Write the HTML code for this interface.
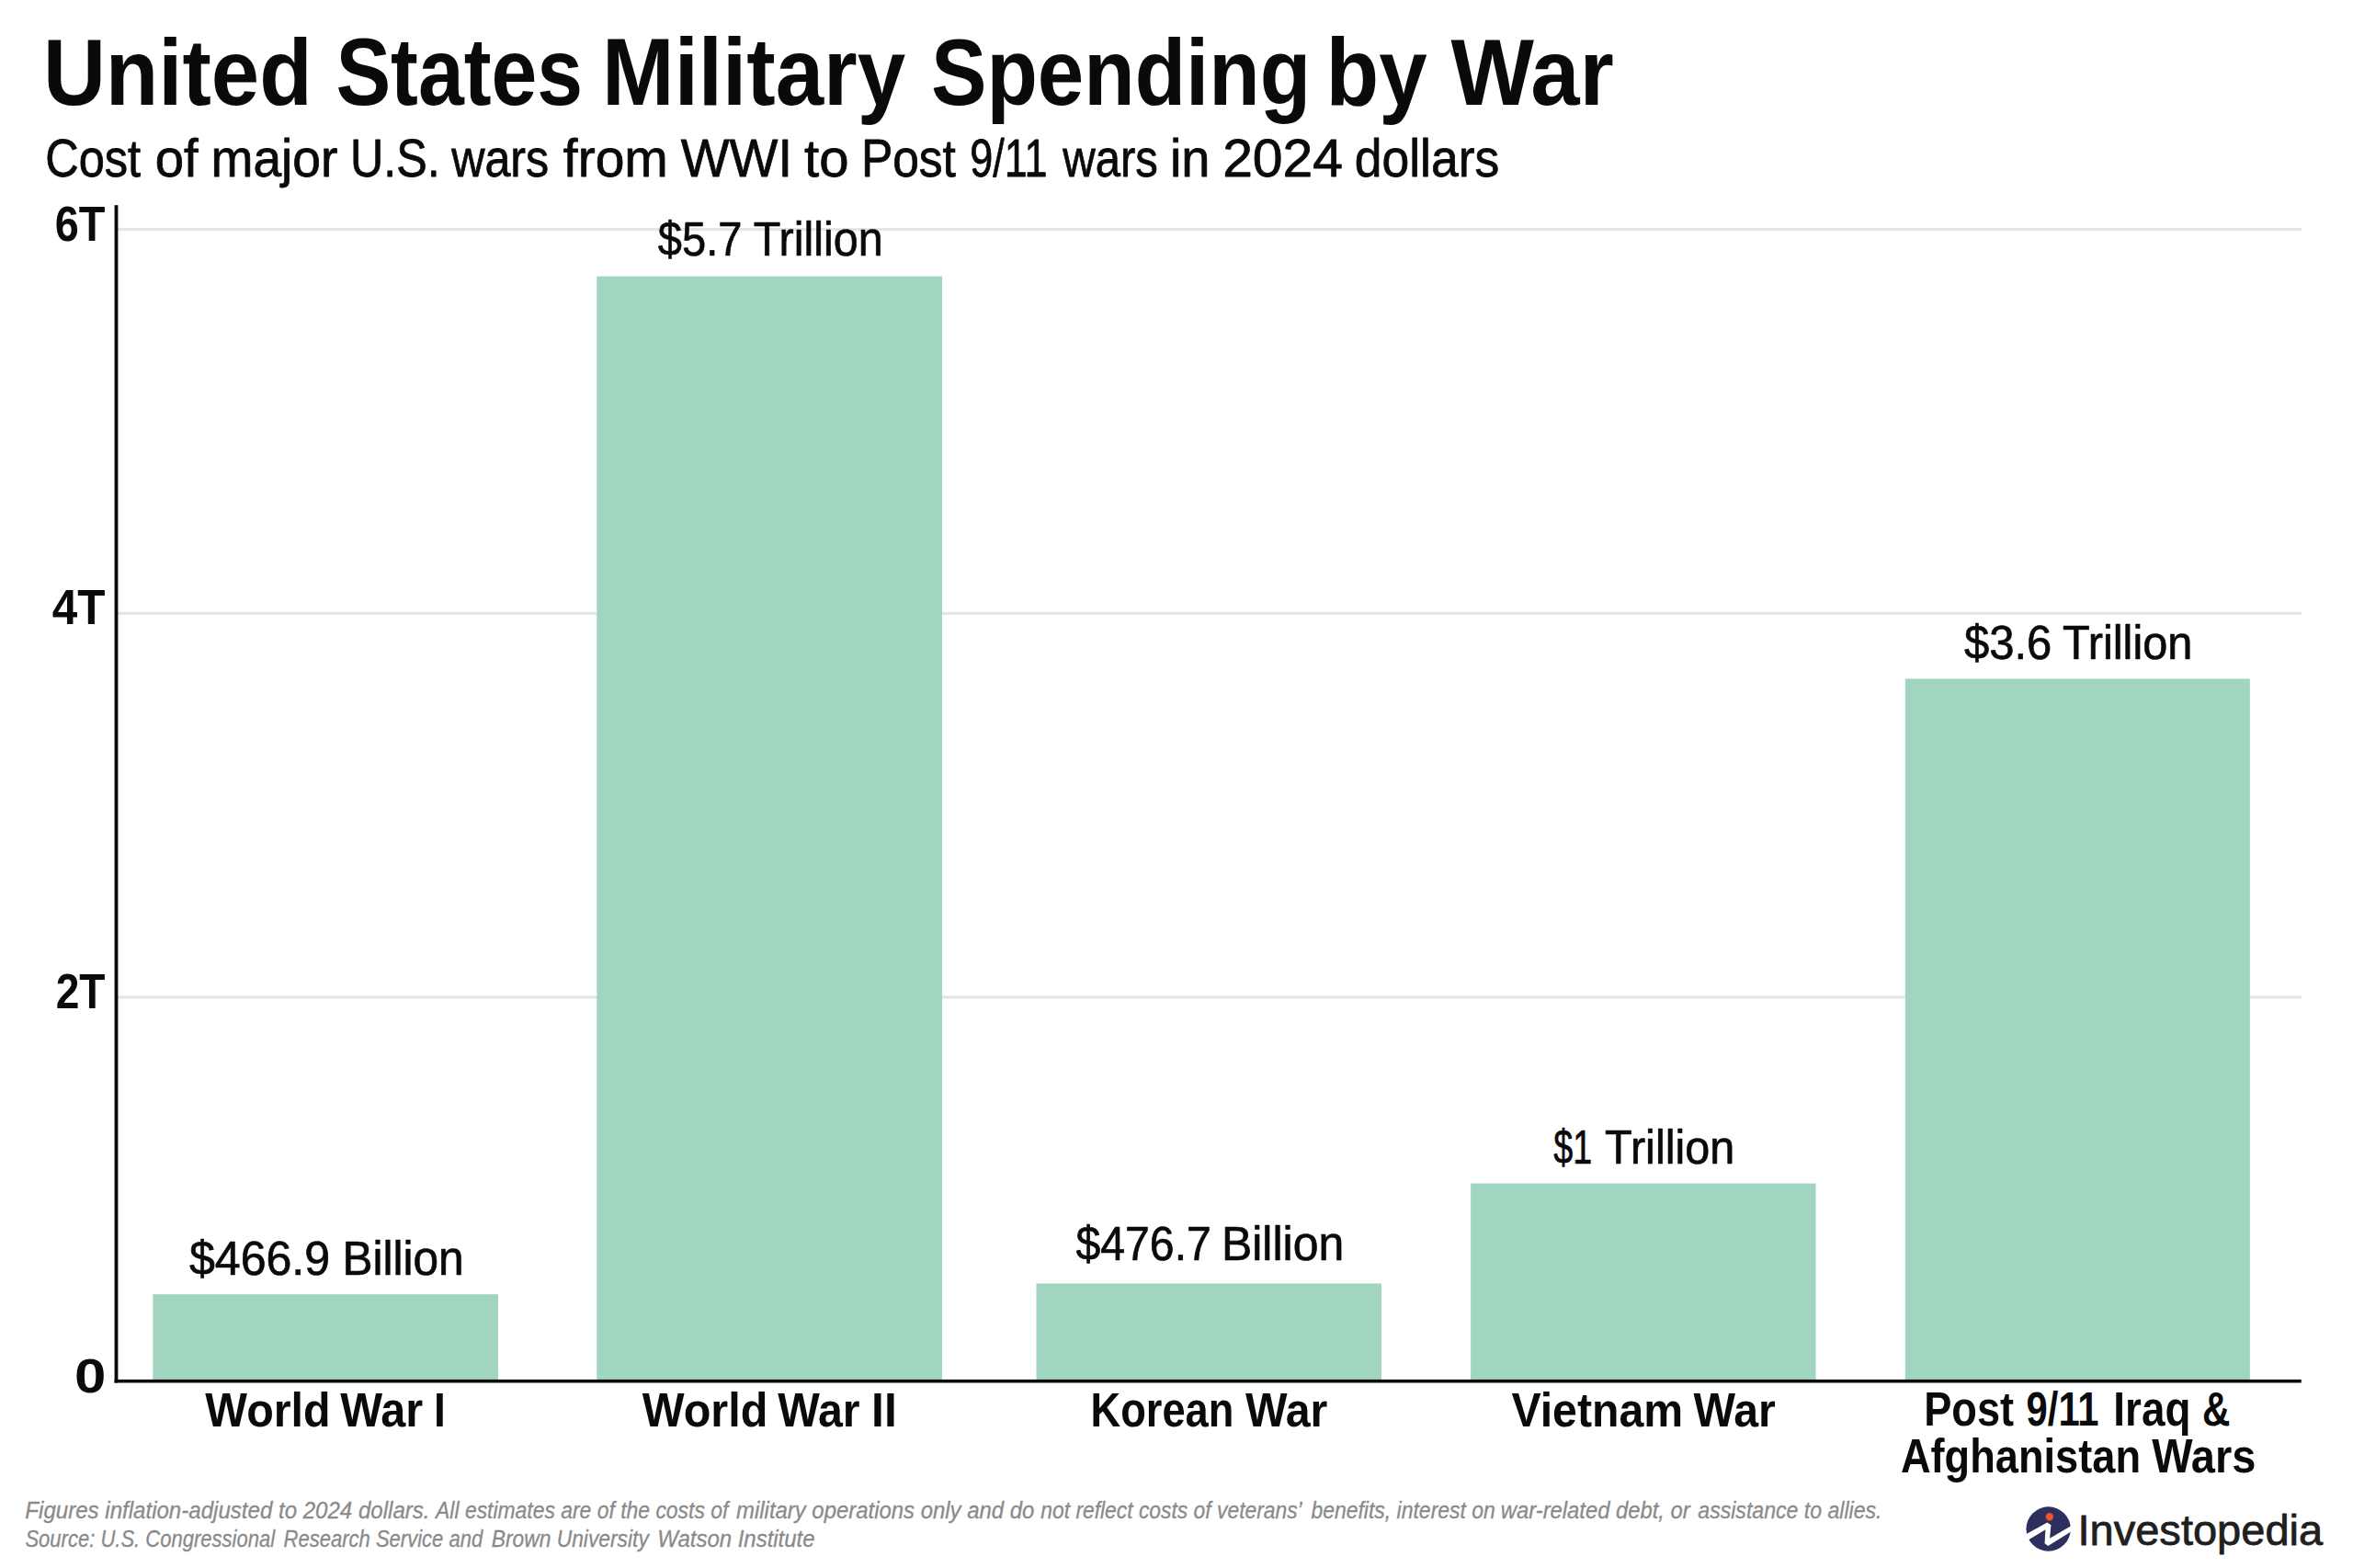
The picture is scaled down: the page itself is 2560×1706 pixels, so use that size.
<!DOCTYPE html>
<html lang="en"><head><meta charset="utf-8"><title>United States Military Spending by War</title>
<style>
html,body{margin:0;padding:0;background:#fff;}
body{width:2560px;height:1706px;overflow:hidden;}
svg{display:block;font-family:"Liberation Sans",sans-serif;}
text{white-space:pre;}
</style></head><body>
<svg width="2560" height="1706" viewBox="0 0 2560 1706">
<rect width="2560" height="1706" fill="#ffffff"/>
<rect x="128" y="248.10" width="2375.75" height="3" fill="#e4e4e4"/>
<rect x="128" y="665.90" width="2375.75" height="3" fill="#e4e4e4"/>
<rect x="128" y="1083.50" width="2375.75" height="3" fill="#e4e4e4"/>
<rect x="166.3" y="1408.2" width="375.7" height="93.8" fill="#a1d5bf"/>
<rect x="649.3" y="300.6" width="375.7" height="1201.4" fill="#a1d5bf"/>
<rect x="1127.5" y="1396.5" width="375.5" height="105.5" fill="#a1d5bf"/>
<rect x="1600.1" y="1287.6" width="375.4" height="214.4" fill="#a1d5bf"/>
<rect x="2072.8" y="738.5" width="375.0" height="763.5" fill="#a1d5bf"/>
<rect x="124.6" y="223.2" width="3.8" height="1281.30" fill="#0a0a0a"/>
<rect x="124.6" y="1500.9" width="2379.15" height="3.6" fill="#0a0a0a"/>
<g>
<circle cx="2228.65" cy="1663.5" r="24.2" fill="#2d305e"/>
<polygon points="2203.35,1669.76 2227.35,1656.41 2231.43,1659.27 2230.08,1673.63 2253.96,1659.84 2253.96,1665.96 2228.24,1681.88 2224.57,1679.35 2225.39,1664.24 2203.35,1677.59" fill="#ffffff"/>
<circle cx="2229.9" cy="1650.2" r="4.2" fill="#e8562a"/>
</g>
<text transform="matrix(0.9149 0 0 1 46.89 114.30)" font-size="102.91" font-weight="700" fill="#0a0a0a">United</text>
<text transform="matrix(0.8700 0 0 1 365.40 114.30)" font-size="102.91" font-weight="700" fill="#0a0a0a">States</text>
<text transform="matrix(0.9165 0 0 1 655.11 114.30)" font-size="102.91" font-weight="700" fill="#0a0a0a">Military</text>
<text transform="matrix(0.8815 0 0 1 1012.88 114.30)" font-size="102.91" font-weight="700" fill="#0a0a0a">Spending</text>
<text transform="matrix(0.9177 0 0 1 1442.60 114.30)" font-size="102.91" font-weight="700" fill="#0a0a0a">by</text>
<text transform="matrix(0.9306 0 0 1 1578.50 114.30)" font-size="102.91" font-weight="700" fill="#0a0a0a">War</text>
<text transform="matrix(0.8914 0 0 1 49.28 192.10)" font-size="56.69" font-weight="400" fill="#0a0a0a" stroke="#0a0a0a" stroke-width="0.8" stroke-linejoin="round">Cost</text>
<text transform="matrix(0.9946 0 0 1 168.64 192.10)" font-size="56.69" font-weight="400" fill="#0a0a0a" stroke="#0a0a0a" stroke-width="0.8" stroke-linejoin="round">of</text>
<text transform="matrix(0.9730 0 0 1 229.45 192.10)" font-size="56.69" font-weight="400" fill="#0a0a0a" stroke="#0a0a0a" stroke-width="0.8" stroke-linejoin="round">major</text>
<text transform="matrix(0.8855 0 0 1 381.01 192.10)" font-size="56.69" font-weight="400" fill="#0a0a0a" stroke="#0a0a0a" stroke-width="0.8" stroke-linejoin="round">U.S.</text>
<text transform="matrix(0.8855 0 0 1 491.18 192.10)" font-size="56.69" font-weight="400" fill="#0a0a0a" stroke="#0a0a0a" stroke-width="0.8" stroke-linejoin="round">wars</text>
<text transform="matrix(1.0060 0 0 1 612.80 192.10)" font-size="56.69" font-weight="400" fill="#0a0a0a" stroke="#0a0a0a" stroke-width="0.8" stroke-linejoin="round">from</text>
<text transform="matrix(0.9878 0 0 1 740.70 192.10)" font-size="56.69" font-weight="400" fill="#0a0a0a" stroke="#0a0a0a" stroke-width="0.8" stroke-linejoin="round">WWI</text>
<text transform="matrix(1.0249 0 0 1 875.00 192.10)" font-size="56.69" font-weight="400" fill="#0a0a0a" stroke="#0a0a0a" stroke-width="0.8" stroke-linejoin="round">to</text>
<text transform="matrix(0.9085 0 0 1 936.88 192.10)" font-size="56.69" font-weight="400" fill="#0a0a0a" stroke="#0a0a0a" stroke-width="0.8" stroke-linejoin="round">Post</text>
<text transform="matrix(0.7928 0 0 1 1055.29 192.10)" font-size="56.69" font-weight="400" fill="#0a0a0a" stroke="#0a0a0a" stroke-width="0.8" stroke-linejoin="round">9/11</text>
<text transform="matrix(0.8666 0 0 1 1156.17 192.10)" font-size="56.69" font-weight="400" fill="#0a0a0a" stroke="#0a0a0a" stroke-width="0.8" stroke-linejoin="round">wars</text>
<text transform="matrix(0.9881 0 0 1 1272.90 192.10)" font-size="56.69" font-weight="400" fill="#0a0a0a" stroke="#0a0a0a" stroke-width="0.8" stroke-linejoin="round">in</text>
<text transform="matrix(1.0382 0 0 1 1330.14 192.10)" font-size="56.69" font-weight="400" fill="#0a0a0a" stroke="#0a0a0a" stroke-width="0.8" stroke-linejoin="round">2024</text>
<text transform="matrix(0.9434 0 0 1 1473.73 192.10)" font-size="56.69" font-weight="400" fill="#0a0a0a" stroke="#0a0a0a" stroke-width="0.8" stroke-linejoin="round">dollars</text>
<text transform="matrix(0.8817 0 0 1 59.73 261.60)" font-size="53.20" font-weight="700" fill="#0a0a0a">6T</text>
<text transform="matrix(0.9357 0 0 1 56.70 679.30)" font-size="52.91" font-weight="700" fill="#0a0a0a">4T</text>
<text transform="matrix(0.8715 0 0 1 60.66 1096.60)" font-size="52.91" font-weight="700" fill="#0a0a0a">2T</text>
<text transform="matrix(1.1797 0 0 1 80.97 1515.00)" font-size="52.33" font-weight="700" fill="#0a0a0a">0</text>
<text transform="matrix(0.9820 0 0 1 205.95 1387.20)" font-size="51.02" font-weight="400" fill="#0a0a0a" stroke="#0a0a0a" stroke-width="0.7" stroke-linejoin="round">$466.9</text>
<text transform="matrix(0.9717 0 0 1 372.38 1387.20)" font-size="51.02" font-weight="400" fill="#0a0a0a" stroke="#0a0a0a" stroke-width="0.7" stroke-linejoin="round">Billion</text>
<text transform="matrix(0.9226 0 0 1 715.85 278.10)" font-size="51.02" font-weight="400" fill="#0a0a0a" stroke="#0a0a0a" stroke-width="0.7" stroke-linejoin="round">$5.7</text>
<text transform="matrix(0.9497 0 0 1 819.79 278.10)" font-size="51.02" font-weight="400" fill="#0a0a0a" stroke="#0a0a0a" stroke-width="0.7" stroke-linejoin="round">Trillion</text>
<text transform="matrix(0.9437 0 0 1 1170.55 1370.90)" font-size="51.02" font-weight="400" fill="#0a0a0a" stroke="#0a0a0a" stroke-width="0.7" stroke-linejoin="round">$476.7</text>
<text transform="matrix(0.9794 0 0 1 1328.95 1370.90)" font-size="51.02" font-weight="400" fill="#0a0a0a" stroke="#0a0a0a" stroke-width="0.7" stroke-linejoin="round">Billion</text>
<text transform="matrix(0.7389 0 0 1 1690.25 1266.00)" font-size="51.02" font-weight="400" fill="#0a0a0a" stroke="#0a0a0a" stroke-width="0.7" stroke-linejoin="round">$1</text>
<text transform="matrix(0.9517 0 0 1 1746.09 1266.00)" font-size="51.02" font-weight="400" fill="#0a0a0a" stroke="#0a0a0a" stroke-width="0.7" stroke-linejoin="round">Trillion</text>
<text transform="matrix(0.9596 0 0 1 2137.05 716.90)" font-size="51.02" font-weight="400" fill="#0a0a0a" stroke="#0a0a0a" stroke-width="0.7" stroke-linejoin="round">$3.6</text>
<text transform="matrix(0.9538 0 0 1 2243.89 716.90)" font-size="51.02" font-weight="400" fill="#0a0a0a" stroke="#0a0a0a" stroke-width="0.7" stroke-linejoin="round">Trillion</text>
<text transform="matrix(0.9500 0 0 1 223.30 1551.60)" font-size="51.02" font-weight="700" fill="#0a0a0a">World</text>
<text transform="matrix(0.9524 0 0 1 370.30 1551.60)" font-size="51.02" font-weight="700" fill="#0a0a0a">War</text>
<text transform="matrix(0.9032 0 0 1 472.12 1551.60)" font-size="51.02" font-weight="700" fill="#0a0a0a">I</text>
<text transform="matrix(0.9521 0 0 1 698.70 1551.60)" font-size="51.02" font-weight="700" fill="#0a0a0a">World</text>
<text transform="matrix(0.9460 0 0 1 846.20 1551.60)" font-size="51.02" font-weight="700" fill="#0a0a0a">War</text>
<text transform="matrix(0.9754 0 0 1 948.09 1551.60)" font-size="51.02" font-weight="700" fill="#0a0a0a">II</text>
<text transform="matrix(0.8865 0 0 1 1186.57 1551.60)" font-size="51.02" font-weight="700" fill="#0a0a0a">Korean</text>
<text transform="matrix(0.9460 0 0 1 1354.90 1551.60)" font-size="51.02" font-weight="700" fill="#0a0a0a">War</text>
<text transform="matrix(0.9453 0 0 1 1644.40 1551.60)" font-size="51.02" font-weight="700" fill="#0a0a0a">Vietnam</text>
<text transform="matrix(0.9460 0 0 1 1842.40 1551.60)" font-size="51.02" font-weight="700" fill="#0a0a0a">War</text>
<text transform="matrix(0.8859 0 0 1 2093.18 1551.30)" font-size="51.02" font-weight="700" fill="#0a0a0a">Post</text>
<text transform="matrix(0.8182 0 0 1 2204.60 1551.30)" font-size="51.02" font-weight="700" fill="#0a0a0a">9/11</text>
<text transform="matrix(0.8988 0 0 1 2299.33 1551.30)" font-size="51.02" font-weight="700" fill="#0a0a0a">Iraq</text>
<text transform="matrix(0.8256 0 0 1 2395.98 1551.30)" font-size="51.02" font-weight="700" fill="#0a0a0a">&amp;</text>
<text transform="matrix(0.8861 0 0 1 2067.89 1601.50)" font-size="51.02" font-weight="700" fill="#0a0a0a">Afghanistan</text>
<text transform="matrix(0.9206 0 0 1 2341.30 1601.50)" font-size="51.02" font-weight="700" fill="#0a0a0a">Wars</text>
<text transform="matrix(0.9413 0 0 1 27.37 1651.50)" font-size="25.58" font-weight="400" font-style="italic" fill="#8a8a8a" stroke="#8a8a8a" stroke-width="0.3" stroke-linejoin="round">Figures inflation-adjusted to 2024 dollars.</text>
<text transform="matrix(0.8961 0 0 1 474.08 1651.50)" font-size="25.58" font-weight="400" font-style="italic" fill="#8a8a8a" stroke="#8a8a8a" stroke-width="0.3" stroke-linejoin="round">All estimates are of the costs of</text>
<text transform="matrix(0.9350 0 0 1 801.03 1651.50)" font-size="25.58" font-weight="400" font-style="italic" fill="#8a8a8a" stroke="#8a8a8a" stroke-width="0.3" stroke-linejoin="round">military operations only and do</text>
<text transform="matrix(0.8930 0 0 1 1132.29 1651.50)" font-size="25.58" font-weight="400" font-style="italic" fill="#8a8a8a" stroke="#8a8a8a" stroke-width="0.3" stroke-linejoin="round">not reflect costs of veterans’</text>
<text transform="matrix(0.8986 0 0 1 1426.40 1651.50)" font-size="25.58" font-weight="400" font-style="italic" fill="#8a8a8a" stroke="#8a8a8a" stroke-width="0.3" stroke-linejoin="round">benefits, interest on</text>
<text transform="matrix(0.9309 0 0 1 1632.78 1651.50)" font-size="25.58" font-weight="400" font-style="italic" fill="#8a8a8a" stroke="#8a8a8a" stroke-width="0.3" stroke-linejoin="round">war-related debt, or</text>
<text transform="matrix(0.9033 0 0 1 1847.29 1651.50)" font-size="25.58" font-weight="400" font-style="italic" fill="#8a8a8a" stroke="#8a8a8a" stroke-width="0.3" stroke-linejoin="round">assistance to allies.</text>
<text transform="matrix(0.8612 0 0 1 27.41 1683.00)" font-size="25.58" font-weight="400" font-style="italic" fill="#8a8a8a" stroke="#8a8a8a" stroke-width="0.3" stroke-linejoin="round">Source: U.S. Congressional</text>
<text transform="matrix(0.8611 0 0 1 308.56 1683.00)" font-size="25.58" font-weight="400" font-style="italic" fill="#8a8a8a" stroke="#8a8a8a" stroke-width="0.3" stroke-linejoin="round">Research Service and</text>
<text transform="matrix(0.8917 0 0 1 534.79 1683.00)" font-size="25.58" font-weight="400" font-style="italic" fill="#8a8a8a" stroke="#8a8a8a" stroke-width="0.3" stroke-linejoin="round">Brown University</text>
<text transform="matrix(0.9370 0 0 1 715.28 1683.00)" font-size="25.58" font-weight="400" font-style="italic" fill="#8a8a8a" stroke="#8a8a8a" stroke-width="0.3" stroke-linejoin="round">Watson Institute</text>
<text transform="matrix(1.0116 0 0 1 2260.47 1681.40)" font-size="46.51" font-weight="400" fill="#1f1f1f" stroke="#1f1f1f" stroke-width="0.8" stroke-linejoin="round">Investopedia</text>
</svg>
</body></html>
